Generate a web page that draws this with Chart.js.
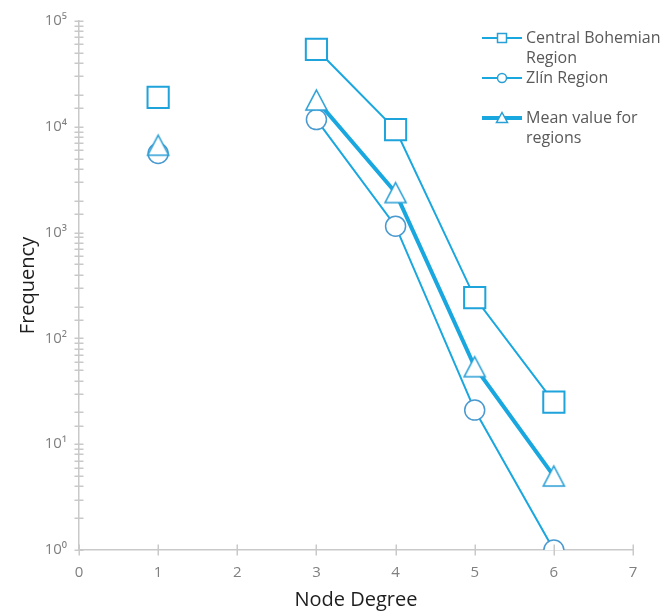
<!DOCTYPE html>
<html>
<head>
<meta charset="utf-8">
<script src="https://cdn.jsdelivr.net/npm/chart.js@4"></script>
<style>
  html, body { margin: 0; padding: 0; background: #ffffff; }
  canvas { display: block; }
</style>
</head>
<body>
<canvas id="chart" width="662" height="612"></canvas>
<script>
// Node degree distribution (log-scaled frequency)
const degrees = [1, 2, 3, 4, 5, 6];
const centralBohemian = [19000, null, 54000, 9400, 243, 25];
const zlinRegion = [5600, null, 11700, 1150, 21, 1];
const meanRegions = [6700, null, 17900, 2390, 54, 5];
const xTickValues = [0, 1, 2, 3, 4, 5, 6, 7];
const legendLines = [
  ['Central Bohemian', 'Region'],
  ['Zlín Region'],
  ['Mean value for', 'regions']
];

const LINE_BLUE = '#19a7df';
const MARK_BLUE = '#2a9fd5';
const AXIS_GREY = '#c9c9c9';
const TEXT_GREY = '#808080';
const FONT = '"Open Sans", "DejaVu Sans", sans-serif';

const SUP = { '0': '\u2070', '1': '\u00b9', '2': '\u00b2', '3': '\u00b3', '4': '\u2074',
              '5': '\u2075', '6': '\u2076', '7': '\u2077', '8': '\u2078', '9': '\u2079' };
function powerLabel(exp) {
  return '10' + String(exp).split('').map(d => SUP[d]).join('');
}

// Open triangle marker: bounding box centred on the data point
function makeTriangle(w, h, lw) {
  const c = document.createElement('canvas');
  c.width = Math.ceil(w + lw * 2 + 2);
  c.height = Math.ceil(h + lw * 2 + 2);
  const g = c.getContext('2d');
  const cx = c.width / 2, cy = c.height / 2;
  g.beginPath();
  g.moveTo(cx, cy - h / 2);
  g.lineTo(cx + w / 2, cy + h / 2);
  g.lineTo(cx - w / 2, cy + h / 2);
  g.closePath();
  g.fillStyle = '#ffffff';
  g.fill();
  g.lineWidth = lw;
  g.lineJoin = 'miter';
  g.strokeStyle = MARK_BLUE;
  g.stroke();
  return c;
}
const triangleBig = makeTriangle(21, 20, 1.6);

function toPoints(values) {
  return degrees.map((d, i) => ({ x: d, y: values[i] }));
}

// Tick marks crossing the axes
const crossTicks = {
  id: 'crossTicks',
  afterDraw(chart) {
    const { ctx, chartArea, scales } = chart;
    ctx.save();
    ctx.strokeStyle = AXIS_GREY;
    ctx.lineWidth = 1.5;
    ctx.beginPath();
    scales.y.ticks.forEach(t => {
      const py = Math.round(scales.y.getPixelForValue(t.value)) + 0.25;
      ctx.moveTo(chartArea.left - 4.5, py);
      ctx.lineTo(chartArea.left + 4.5, py);
    });
    scales.x.ticks.forEach(t => {
      const px = Math.round(scales.x.getPixelForValue(t.value)) + 0.25;
      ctx.moveTo(px, chartArea.bottom - 5.5);
      ctx.lineTo(px, chartArea.bottom + 5.5);
    });
    ctx.stroke();
    ctx.restore();
  }
};

// Legend in the upper right corner
const sideLegend = {
  id: 'sideLegend',
  afterDraw(chart) {
    const { ctx } = chart;
    const x0 = 482, x1 = 522, xm = 502, tx = 526;
    const rows = [38, 78, 118];
    const lineH = 20.5;
    ctx.save();
    rows.forEach((y, i) => {
      ctx.strokeStyle = LINE_BLUE;
      ctx.lineWidth = i === 2 ? 4 : 2;
      ctx.beginPath();
      ctx.moveTo(x0, y);
      ctx.lineTo(x1, y);
      ctx.stroke();
      ctx.fillStyle = '#ffffff';
      ctx.strokeStyle = MARK_BLUE;
      ctx.lineWidth = 1.5;
      ctx.beginPath();
      if (i === 0) {
        ctx.rect(xm - 4.5, y - 4.5, 9, 9);
      } else if (i === 1) {
        ctx.arc(xm, y, 4.5, 0, Math.PI * 2);
      } else {
        ctx.moveTo(xm, y - 5.5);
        ctx.lineTo(xm + 5.5, y + 4.5);
        ctx.lineTo(xm - 5.5, y + 4.5);
        ctx.closePath();
      }
      ctx.fill();
      ctx.stroke();
      ctx.fillStyle = '#595959';
      ctx.font = '16px ' + FONT;
      ctx.textAlign = 'left';
      ctx.textBaseline = 'middle';
      legendLines[i].forEach((s, k) => ctx.fillText(s, tx, y + k * lineH));
    });
    ctx.restore();
  }
};

new Chart(document.getElementById('chart'), {
  type: 'line',
  data: {
    datasets: [
      {
        label: 'Mean value for regions',
        data: toPoints(meanRegions),
        order: 0,
        borderColor: LINE_BLUE,
        borderWidth: 4,
        pointStyle: triangleBig,
        pointBackgroundColor: '#ffffff',
        pointBorderColor: MARK_BLUE,
        spanGaps: false,
        tension: 0
      },
      {
        label: 'Zlín Region',
        data: toPoints(zlinRegion),
        order: 1,
        borderColor: LINE_BLUE,
        borderWidth: 2,
        pointStyle: 'circle',
        pointRadius: 10,
        pointBorderWidth: 1.5,
        pointBackgroundColor: '#ffffff',
        pointBorderColor: '#4a9ad0',
        spanGaps: false,
        tension: 0
      },
      {
        label: 'Central Bohemian Region',
        data: toPoints(centralBohemian),
        order: 2,
        borderColor: LINE_BLUE,
        borderWidth: 2,
        pointStyle: 'rect',
        pointRadius: 15,
        pointBorderWidth: 2,
        pointBackgroundColor: '#ffffff',
        pointBorderColor: '#1ea3da',
        spanGaps: false,
        tension: 0
      }
    ]
  },
  options: {
    responsive: false,
    animation: false,
    events: [],
    layout: { padding: { top: 20, right: 29, left: 0, bottom: 0 } },
    plugins: { legend: { display: false }, tooltip: { enabled: false } },
    scales: {
      x: {
        type: 'linear',
        min: 0,
        max: 7,
        afterFit(scale) { scale.height = 62; },
        afterBuildTicks(scale) { scale.ticks = xTickValues.map(v => ({ value: v })); },
        grid: { display: false, drawTicks: false, tickLength: 0 },
        border: { display: true, color: AXIS_GREY, width: 1.5 },
        ticks: { color: TEXT_GREY, padding: 14, font: { family: FONT, size: 15 }, maxRotation: 0 },
        title: {
          display: true,
          text: 'Node Degree',
          color: '#1e1e1e',
          padding: { top: 0, bottom: 0 },
          font: { family: FONT, size: 20 }
        }
      },
      y: {
        type: 'logarithmic',
        min: 1,
        max: 100000,
        afterFit(scale) { scale.width = 79; },
        grid: { display: false, drawTicks: false, tickLength: 0 },
        border: { display: true, color: AXIS_GREY, width: 1.5 },
        ticks: {
          color: TEXT_GREY,
          padding: 12,
          autoSkip: false,
          font: { family: FONT, size: 15 },
          callback(value) {
            const e = Math.log10(value);
            return Math.abs(e - Math.round(e)) < 1e-9 ? powerLabel(Math.round(e)) : '';
          }
        },
        title: {
          display: true,
          text: 'Frequency',
          color: '#1e1e1e',
          padding: { top: 16, bottom: 0 },
          font: { family: FONT, size: 20 }
        }
      }
    }
  },
  plugins: [crossTicks, sideLegend]
});
</script>
</body>
</html>
